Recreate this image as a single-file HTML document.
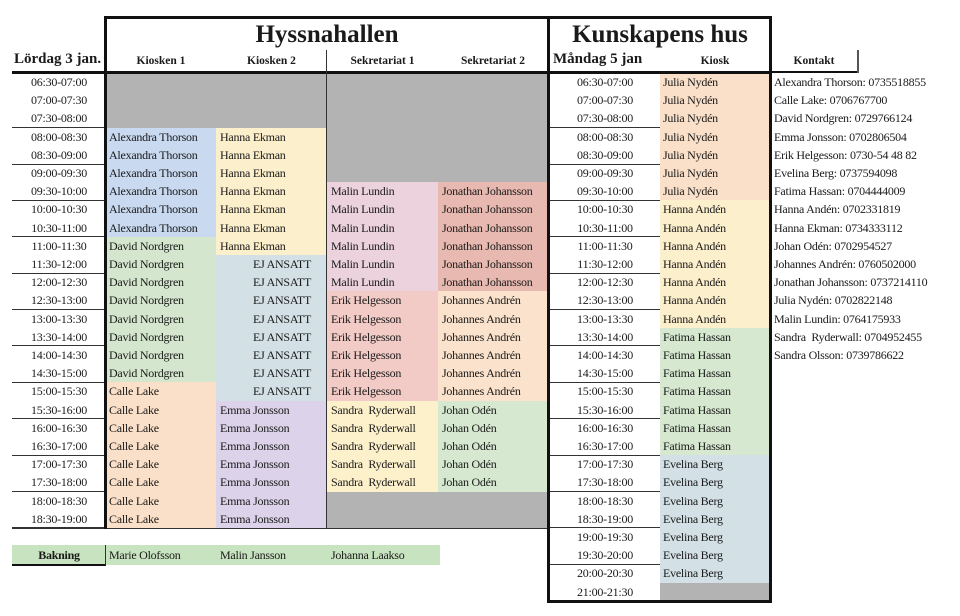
<!DOCTYPE html>
<html><head><meta charset="utf-8"><style>
body{margin:0;width:960px;height:616px;background:#fff;position:relative;overflow:hidden;font-family:"Liberation Serif","DejaVu Serif",serif;color:#1a1a1a}
div{position:absolute;box-sizing:border-box}
.col{font-size:12px;line-height:18.2px;white-space:pre;letter-spacing:-0.25px}
.hl{height:1px;background:#333}
.t{text-align:center}
</style></head><body>
<div class="hl" style="left:12px;top:127px;width:536px"></div>
<div class="hl" style="left:12px;top:164px;width:536px"></div>
<div class="hl" style="left:12px;top:200px;width:536px"></div>
<div class="hl" style="left:12px;top:236px;width:536px"></div>
<div class="hl" style="left:12px;top:273px;width:536px"></div>
<div class="hl" style="left:12px;top:309px;width:536px"></div>
<div class="hl" style="left:12px;top:345px;width:536px"></div>
<div class="hl" style="left:12px;top:382px;width:536px"></div>
<div class="hl" style="left:12px;top:418px;width:536px"></div>
<div class="hl" style="left:12px;top:455px;width:536px"></div>
<div class="hl" style="left:12px;top:491px;width:536px"></div>
<div class="hl" style="left:12px;top:527px;width:536px;height:2px"></div>

<div class="hl" style="left:548px;top:127px;width:222px"></div>
<div class="hl" style="left:548px;top:164px;width:222px"></div>
<div class="hl" style="left:548px;top:200px;width:222px"></div>
<div class="hl" style="left:548px;top:236px;width:222px"></div>
<div class="hl" style="left:548px;top:273px;width:222px"></div>
<div class="hl" style="left:548px;top:309px;width:222px"></div>
<div class="hl" style="left:548px;top:345px;width:222px"></div>
<div class="hl" style="left:548px;top:382px;width:222px"></div>
<div class="hl" style="left:548px;top:418px;width:222px"></div>
<div class="hl" style="left:548px;top:455px;width:222px"></div>
<div class="hl" style="left:548px;top:491px;width:222px"></div>
<div class="hl" style="left:548px;top:527px;width:222px"></div>
<div class="hl" style="left:548px;top:564px;width:222px"></div>

<div style="left:106px;top:73px;width:110px;height:54.6px;background:#b3b3b3"></div>
<div style="left:106px;top:128px;width:110px;height:109.2px;background:#c9d9f0"></div>
<div style="left:106px;top:237px;width:110px;height:145.6px;background:#d4e6cd"></div>
<div style="left:106px;top:382.4px;width:110px;height:145.6px;background:#fbe0c9"></div>
<div style="left:216px;top:73px;width:111px;height:54.6px;background:#b3b3b3"></div>
<div style="left:216px;top:128px;width:111px;height:127.4px;background:#fcefcc"></div>
<div style="left:216px;top:255px;width:111px;height:145.6px;background:#d3e0e6"></div>
<div style="left:216px;top:400.6px;width:111px;height:127.4px;background:#dcd3ea"></div>
<div style="left:327px;top:73px;width:221px;height:109.2px;background:#b3b3b3"></div>
<div style="left:327px;top:182.2px;width:111px;height:109.2px;background:#ecd2dc"></div>
<div style="left:327px;top:291.4px;width:111px;height:109.2px;background:#f3cbc6"></div>
<div style="left:327px;top:400.6px;width:111px;height:91px;background:#fdf1cc"></div>
<div style="left:327px;top:491.6px;width:221px;height:36.4px;background:#b3b3b3"></div>
<div style="left:438px;top:182.2px;width:110px;height:109.2px;background:#e8b9b0"></div>
<div style="left:438px;top:291.4px;width:110px;height:109.2px;background:#fbe2cc"></div>
<div style="left:438px;top:400.6px;width:110px;height:91px;background:#d6e9d0"></div>
<div style="left:660px;top:73px;width:110px;height:127.4px;background:#fbe0c9"></div>
<div style="left:660px;top:200.4px;width:110px;height:127.4px;background:#fcefcc"></div>
<div style="left:660px;top:327.8px;width:110px;height:127.4px;background:#d6e9d0"></div>
<div style="left:660px;top:455.2px;width:110px;height:127.4px;background:#d3e0e6"></div>
<div style="left:660px;top:582.6px;width:110px;height:18.2px;background:#b3b3b3"></div>

<div style="left:106px;top:16px;width:666px;height:3px;background:#111"></div>
<div style="left:104px;top:16px;width:3px;height:513px;background:#111"></div>
<div style="left:547px;top:16px;width:3px;height:587px;background:#111"></div>
<div style="left:769px;top:16px;width:3px;height:587px;background:#111"></div>
<div style="left:547px;top:600px;width:225px;height:3px;background:#111"></div>
<div style="left:12px;top:71px;width:760px;height:3px;background:#111"></div>
<div style="left:770px;top:71px;width:88px;height:2px;background:#111"></div>
<div style="left:857px;top:50px;width:2px;height:23px;background:#555"></div>
<div style="left:326px;top:50px;width:1px;height:478px;background:#333"></div>

<div class="t" style="left:106px;top:19px;width:442px;font-size:25px;font-weight:bold;line-height:32px">Hyssnahallen</div>
<div class="t" style="left:550px;top:19px;width:220px;font-size:25px;font-weight:bold;line-height:32px">Kunskapens hus</div>
<div style="left:14px;top:51px;font-size:15px;font-weight:bold">Lördag 3 jan.</div>
<div class="t" style="left:106px;top:55px;width:110px;font-size:11.5px;font-weight:bold">Kiosken 1</div>
<div class="t" style="left:216px;top:55px;width:111px;font-size:11.5px;font-weight:bold">Kiosken 2</div>
<div class="t" style="left:327px;top:55px;width:111px;font-size:11.5px;font-weight:bold">Sekretariat 1</div>
<div class="t" style="left:438px;top:55px;width:110px;font-size:11.5px;font-weight:bold">Sekretariat 2</div>
<div style="left:553px;top:51px;font-size:15px;font-weight:bold">Måndag 5 jan</div>
<div class="t" style="left:660px;top:55px;width:110px;font-size:11.5px;font-weight:bold">Kiosk</div>
<div class="t" style="left:772px;top:55px;width:84px;font-size:11.5px;font-weight:bold">Kontakt</div>

<div class="col t" style="left:12px;top:73px;width:94px">06:30-07:00
07:00-07:30
07:30-08:00
08:00-08:30
08:30-09:00
09:00-09:30
09:30-10:00
10:00-10:30
10:30-11:00
11:00-11:30
11:30-12:00
12:00-12:30
12:30-13:00
13:00-13:30
13:30-14:00
14:00-14:30
14:30-15:00
15:00-15:30
15:30-16:00
16:00-16:30
16:30-17:00
17:00-17:30
17:30-18:00
18:00-18:30
18:30-19:00</div>
<div class="col t" style="left:550px;top:73px;width:110px">06:30-07:00
07:00-07:30
07:30-08:00
08:00-08:30
08:30-09:00
09:00-09:30
09:30-10:00
10:00-10:30
10:30-11:00
11:00-11:30
11:30-12:00
12:00-12:30
12:30-13:00
13:00-13:30
13:30-14:00
14:00-14:30
14:30-15:00
15:00-15:30
15:30-16:00
16:00-16:30
16:30-17:00
17:00-17:30
17:30-18:00
18:00-18:30
18:30-19:00
19:00-19:30
19:30-20:00
20:00-20:30
21:00-21:30</div>

<div class="col" style="left:109px;top:127.6px">Alexandra Thorson
Alexandra Thorson
Alexandra Thorson
Alexandra Thorson
Alexandra Thorson
Alexandra Thorson
David Nordgren
David Nordgren
David Nordgren
David Nordgren
David Nordgren
David Nordgren
David Nordgren
David Nordgren
Calle Lake
Calle Lake
Calle Lake
Calle Lake
Calle Lake
Calle Lake
Calle Lake
Calle Lake</div>
<div class="col" style="left:220px;top:127.6px">Hanna Ekman
Hanna Ekman
Hanna Ekman
Hanna Ekman
Hanna Ekman
Hanna Ekman
Hanna Ekman</div>
<div class="col" style="left:253px;top:255px">EJ ANSATT
EJ ANSATT
EJ ANSATT
EJ ANSATT
EJ ANSATT
EJ ANSATT
EJ ANSATT
EJ ANSATT</div>
<div class="col" style="left:220px;top:400.6px">Emma Jonsson
Emma Jonsson
Emma Jonsson
Emma Jonsson
Emma Jonsson
Emma Jonsson
Emma Jonsson</div>
<div class="col" style="left:331px;top:182.2px">Malin Lundin
Malin Lundin
Malin Lundin
Malin Lundin
Malin Lundin
Malin Lundin
Erik Helgesson
Erik Helgesson
Erik Helgesson
Erik Helgesson
Erik Helgesson
Erik Helgesson
Sandra  Ryderwall
Sandra  Ryderwall
Sandra  Ryderwall
Sandra  Ryderwall
Sandra  Ryderwall</div>
<div class="col" style="left:442px;top:182.2px">Jonathan Johansson
Jonathan Johansson
Jonathan Johansson
Jonathan Johansson
Jonathan Johansson
Jonathan Johansson
Johannes Andrén
Johannes Andrén
Johannes Andrén
Johannes Andrén
Johannes Andrén
Johannes Andrén
Johan Odén
Johan Odén
Johan Odén
Johan Odén
Johan Odén</div>
<div class="col" style="left:663px;top:73px">Julia Nydén
Julia Nydén
Julia Nydén
Julia Nydén
Julia Nydén
Julia Nydén
Julia Nydén
Hanna Andén
Hanna Andén
Hanna Andén
Hanna Andén
Hanna Andén
Hanna Andén
Hanna Andén
Fatima Hassan
Fatima Hassan
Fatima Hassan
Fatima Hassan
Fatima Hassan
Fatima Hassan
Fatima Hassan
Evelina Berg
Evelina Berg
Evelina Berg
Evelina Berg
Evelina Berg
Evelina Berg
Evelina Berg</div>
<div class="col" style="left:774px;top:73px">Alexandra Thorson: 0735518855
Calle Lake: 0706767700
David Nordgren: 0729766124
Emma Jonsson: 0702806504
Erik Helgesson: 0730-54 48 82
Evelina Berg: 0737594098
Fatima Hassan: 0704444009
Hanna Andén: 0702331819
Hanna Ekman: 0734333112
Johan Odén: 0702954527
Johannes Andrén: 0760502000
Jonathan Johansson: 0737214110
Julia Nydén: 0702822148
Malin Lundin: 0764175933
Sandra  Ryderwall: 0704952455
Sandra Olsson: 0739786622</div>

<div style="left:12px;top:545px;width:428px;height:20px;background:#c8e3bf"></div>
<div style="left:12px;top:564px;width:94px;height:2px;background:#111"></div>
<div style="left:105px;top:545px;width:1px;height:20px;background:#333"></div>
<div class="col t" style="left:12px;top:546px;width:94px;font-weight:bold">Bakning</div>
<div class="col" style="left:109px;top:546px">Marie Olofsson</div>
<div class="col" style="left:220px;top:546px">Malin Jansson</div>
<div class="col" style="left:331px;top:546px">Johanna Laakso</div>
</body></html>
